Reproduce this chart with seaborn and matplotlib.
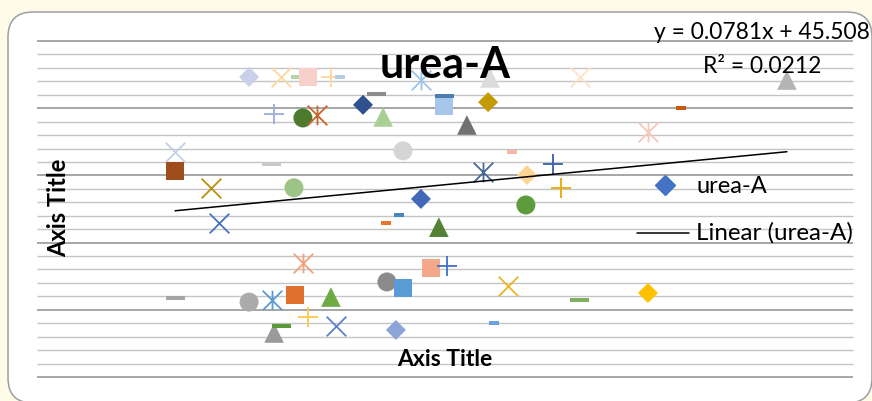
import matplotlib
matplotlib.use("Agg")
import matplotlib.pyplot as plt
from matplotlib.path import Path
from matplotlib.patches import FancyBboxPatch
from matplotlib.lines import Line2D
from matplotlib.transforms import IdentityTransform
import numpy as np
import pandas as pd
import seaborn as sns

sns.set_theme(style="white")
plt.rcParams["font.family"] = ["Lato", "DejaVu Sans"]

W, H = 872, 401

series_name = "urea-A"
trend_slope = 0.0781
trend_intercept = 45.508
trend_r2 = 0.0212

x_values = [78.0, 95.3, 89.7, 99.7, 108.1, 111.4, 141.2, 166.6, 199.7, 275.8,
            236.9, 87.2, 97.8, 103.0, 119.9, 124.7, 127.3, 149.7, 149.7, 165.9,
            158.1, 224.7, 50.8, 50.8, 86.1, 134.6, 174.7, 164.0, 189.8, 180.2,
            192.7, 64.0, 94.5, 141.2, 179.8, 66.9, 133.1, 128.4, 147.8, 97.8,
            144.9, 150.8, 173.2, 128.7, 134.6, 50.8, 78.0, 86.4, 94.9, 108.1,
            199.7, 224.7, 99.7, 87.2, 90.1, 110.0, 132.0, 168.1]
y_values = [89.3, 89.3, 89.3, 89.3, 89.3, 89.3, 88.4, 89.0, 89.3, 88.4,
            80.1, 78.3, 77.1, 78.0, 81.0, 84.2, 77.4, 80.7, 83.5, 81.8,
            75.0, 72.9, 67.0, 61.3, 63.4, 67.3, 67.0, 61.0, 63.4, 60.1,
            56.3, 56.3, 56.3, 53.0, 51.2, 45.8, 48.2, 45.8, 44.6, 33.9,
            32.4, 33.0, 27.1, 28.3, 26.5, 23.5, 22.3, 22.9, 24.4, 23.8,
            22.9, 25.0, 17.9, 13.1, 15.2, 15.2, 14.0, 16.1]
marker_kinds = ["diamond", "short_dash", "cross", "square", "plus", "short_dash", "star", "triangle", "cross", "triangle",
                "short_dash", "plus", "circle", "star", "diamond", "dash", "triangle", "square", "dash", "diamond",
                "triangle", "star", "cross", "square", "dash", "circle", "short_dash", "star", "plus", "diamond",
                "plus", "cross", "circle", "diamond", "circle", "cross", "short_dash", "short_dash", "triangle", "star",
                "square", "plus", "cross", "circle", "square", "dash", "circle", "star", "square", "triangle",
                "dash", "diamond", "plus", "triangle", "dash", "cross", "diamond", "short_dash"]
point_colors = ["#C8D0EA", "#B5D6A4", "#FFD79C", "#F7D0C9", "#FFD79C", "#B4CBEA", "#9DC3E6", "#DBDBDB", "#FFE2C4", "#B4B4B4",
                "#C55A11", "#9AAEDC", "#4D7A2C", "#C9652B", "#2F528F", "#8C8C8C", "#A9CF94", "#A8C5EA", "#4C7DAE", "#C49A05",
                "#727272", "#F7C6B6", "#C6CEEB", "#9E4E1C", "#C9C9C9", "#D5D5D5", "#F4B7A4", "#46699A", "#3461A9", "#FFD595",
                "#E8AA00", "#BA900B", "#9CC487", "#4169B8", "#5E9B3A", "#4A72C2", "#4B86C1", "#E5772F", "#548235", "#F4A078",
                "#F4A789", "#3F6FC6", "#EBB523", "#8B8B8B", "#5B9BD5", "#A5A5A5", "#ABABAB", "#5B9BD5", "#E0702E", "#6FAA45",
                "#7EB15F", "#FFC000", "#FFC845", "#9A9A9A", "#5B9A38", "#5B80D0", "#8DA4D9", "#6BA2DA"]

points = pd.DataFrame({"x": x_values, "y": y_values,
                       "kind": marker_kinds, "color": point_colors})

# Marker shapes: asterisk and bar-shaped dashes are built as paths
asterisk = Path([(-0.5, -0.5), (0.5, 0.5), (-0.5, 0.5), (0.5, -0.5), (0, -0.5), (0, 0.5)],
                [Path.MOVETO, Path.LINETO] * 3)


def bar_path(half_h):
    return Path([(-0.5, -half_h), (0.5, -half_h), (0.5, half_h), (-0.5, half_h), (-0.5, -half_h)],
                [Path.MOVETO, Path.LINETO, Path.LINETO, Path.LINETO, Path.CLOSEPOLY])


solid = dict(edgecolor="none", linewidth=0)
stroke = dict(linewidth=1.3)
MARKERS = {
    "diamond": ("D", 104, solid),
    "square": ("s", 177, solid),
    "circle": ("o", 187, solid),
    "triangle": ("^", 200, solid),
    "cross": ("x", 200, stroke),
    "plus": ("+", 200, stroke),
    "star": (asterisk, 200, dict(edgecolor="face", linewidth=1.3)),
    "dash": (bar_path(0.105), 187, solid),
    "short_dash": (bar_path(0.2), 52, solid),
}

fig = plt.figure(figsize=(W / 100, H / 100), dpi=100)
fig.set_facecolor("#FEFBE8")


def fx(px):
    return px / W


def fy(py):
    return 1 - py / H


# chart area with rounded border
box = FancyBboxPatch((8, -2), 864, 391, boxstyle="round,pad=0,rounding_size=25",
                     transform=IdentityTransform(), facecolor="white",
                     edgecolor="#9E9E9E", linewidth=1.1, zorder=-5)
fig.add_artist(box)

left, right, top, bottom = 37, 852.7, 41, 377
ax = fig.add_axes([fx(left), fy(bottom), fx(right) - fx(left), (bottom - top) / H])
ax.set_facecolor("none")
ax.set_xlim(0, 300)
ax.set_ylim(0, 100)

# horizontal gridlines: majors every 20, minors every 4
minor_vals = [v for v in np.arange(0, 101, 4) if v % 20 != 0]
ax.hlines(minor_vals, 0, 300, colors="#C4C4C4", linewidth=1.0, clip_on=False, zorder=0)
ax.hlines(np.arange(0, 101, 20), 0, 300, colors="#8E8E8E", linewidth=1.1, clip_on=False, zorder=0.5)

for _, row in points.iterrows():
    marker, size, kw = MARKERS[row["kind"]]
    sns.scatterplot(x=[row["x"]], y=[row["y"]], marker=marker, s=size,
                    color=row["color"], ax=ax, legend=False, zorder=3, **kw)

# linear trendline from the fitted equation over the data range
xs = np.array([points["x"].min(), points["x"].max()])
trend = pd.DataFrame({"x": xs, "y": trend_slope * xs + trend_intercept})
sns.lineplot(data=trend, x="x", y="y", color="black", linewidth=1.1, ax=ax, zorder=4)

ax.set_xticks([])
ax.set_yticks([])
ax.set_xlabel("")
ax.set_ylabel("")
for sp in ax.spines.values():
    sp.set_visible(False)

# titles
fig.text(fx(445), fy(78), series_name, ha="center", va="baseline",
         fontsize=31, fontweight="bold", color="black")
fig.text(fx(444.5), fy(366), "Axis Title", ha="center", va="baseline",
         fontsize=16.5, fontweight="bold", color="black")
fig.text(fx(66), fy(208), "Axis Title", ha="center", va="baseline", rotation=90,
         rotation_mode="anchor", fontsize=17, fontweight="bold", color="black")

# trendline equation
fig.text(fx(761.5), fy(39.3), f"y = {trend_slope}x + {trend_intercept}", ha="center",
         va="baseline", fontsize=16.4, color="black")
fig.text(fx(762.5), fy(73.3), f"R² = {trend_r2}", ha="center", va="baseline",
         fontsize=16.4, color="black")

# legend
fig.add_artist(Line2D([fx(665)], [fy(185)], marker="D", markersize=10.2, color="#4472C4",
                      linestyle="none", transform=fig.transFigure))
fig.text(fx(696), fy(193), series_name, ha="left", va="baseline", fontsize=17, color="black")
fig.add_artist(Line2D([fx(637), fx(689)], [fy(233), fy(233)], color="black", linewidth=1.1,
                      transform=fig.transFigure))
fig.text(fx(696), fy(240), f"Linear ({series_name})", ha="left", va="baseline",
         fontsize=17.4, color="black")

fig.savefig("out.png", dpi=100, facecolor=fig.get_facecolor())
